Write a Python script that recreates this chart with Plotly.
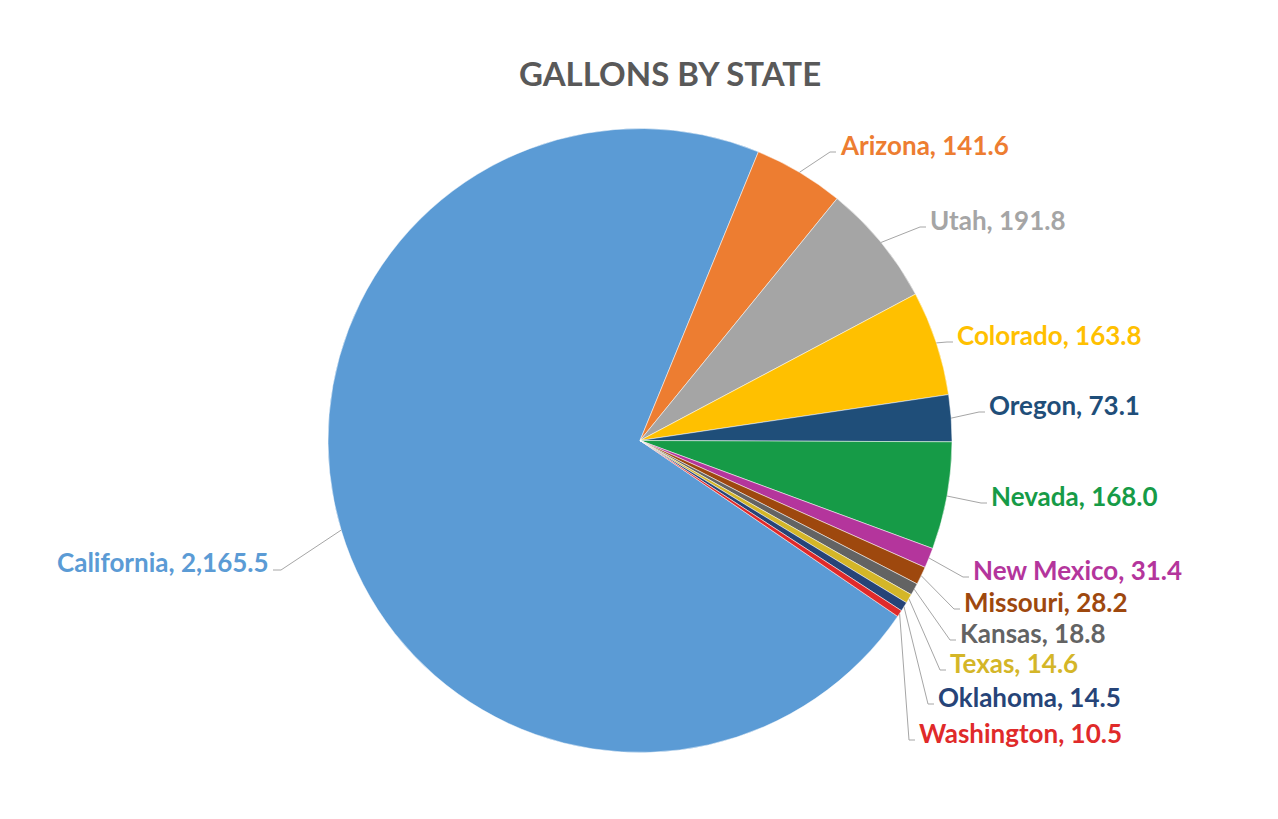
import math
import plotly.graph_objects as go

# ---- data ----
states = ["California", "Arizona", "Utah", "Colorado", "Oregon", "Nevada",
          "New Mexico", "Missouri", "Kansas", "Texas", "Oklahoma", "Washington"]
gallons = [2165.5, 141.6, 191.8, 163.8, 73.1, 168.0,
           31.4, 28.2, 18.8, 14.6, 14.5, 10.5]
colors = ["#5B9BD5", "#ED7D31", "#A5A5A5", "#FFC000", "#1F4E79", "#169B47",
          "#B4359C", "#9E480E", "#636363", "#D4B628", "#264478", "#E02A2A"]

# ---- layout ----
PAGE_W, PAGE_H = 1278, 819
OFF = 8                      # default body margin of the html page
W, H = PAGE_W - 2 * OFF, PAGE_H - 2 * OFF
CX, CY, R = 640, 440.5, 312  # pie centre / radius in page pixels
START = 22.3                 # angle (clockwise from 12 o'clock) where the 2nd slice begins

total = sum(gallons)
rotation = (START + sum(gallons[1:]) / total * 360.0) % 360

# label placement (text anchor x, centre y in page pixels); 'r' = right-aligned
label_pos = {
    "California": (271, 562, "r"),
    "Arizona": (838, 145, "l"),
    "Utah": (928, 220, "l"),
    "Colorado": (955, 335, "l"),
    "Oregon": (987, 405, "l"),
    "Nevada": (989, 496, "l"),
    "New Mexico": (971, 570, "l"),
    "Missouri": (962, 602, "l"),
    "Kansas": (958, 633, "l"),
    "Texas": (948, 663, "l"),
    "Oklahoma": (936, 697, "l"),
    "Washington": (917, 733, "l"),
}

def px(x):
    return (x - OFF) / W

def py(y):
    return 1 - (y - OFF) / H

fig = go.Figure(go.Pie(
    labels=states, values=gallons, sort=False, direction="clockwise",
    rotation=rotation, textinfo="none", hoverinfo="label+value",
    marker=dict(colors=colors, line=dict(color="white", width=0.5)),
    domain=dict(x=[px(CX - R), px(CX + R)], y=[py(CY + R), py(CY - R)]),
    showlegend=False,
))

FONT = "Lato"
annotations = []
shapes = []
cum = rotation
for name, val, col in zip(states, gallons, colors):
    span = val / total * 360.0
    mid = math.radians(cum + span / 2)
    cum += span
    ex = CX + R * math.sin(mid)
    ey = CY - R * math.cos(mid)
    tx, ty, side = label_pos[name]
    txt = f"<b>{name}, {val:,.1f}</b>"
    if side == "l":
        xanchor = "left"
        e1 = (tx - 8, ty + 7)
        e2 = (tx - 2, ty + 7)
    else:
        xanchor = "right"
        e1 = (tx + 10, ty + 8)
        e2 = (tx + 2, ty + 8)
    annotations.append(dict(x=px(tx), y=py(ty), xref="paper", yref="paper",
                            text=txt, showarrow=False, xanchor=xanchor, yanchor="middle",
                            font=dict(family=FONT, size=26, color=col)))
    path = f"M {px(ex)},{py(ey)} L {px(e1[0])},{py(e1[1])} L {px(e2[0])},{py(e2[1])}"
    shapes.append(dict(type="path", path=path, xref="paper", yref="paper",
                       line=dict(color="#A6A6A6", width=1)))

annotations.append(dict(x=px(670), y=py(73), xref="paper", yref="paper",
                        text="<b>GALLONS BY STATE</b>", showarrow=False,
                        xanchor="center", yanchor="middle",
                        font=dict(family=FONT, size=33, color="#595959")))

fig.update_layout(
    width=W, height=H, margin=dict(l=0, r=0, t=0, b=0),
    paper_bgcolor="white", plot_bgcolor="white",
    annotations=annotations, shapes=shapes,
)

fig.write_html("out.html")
